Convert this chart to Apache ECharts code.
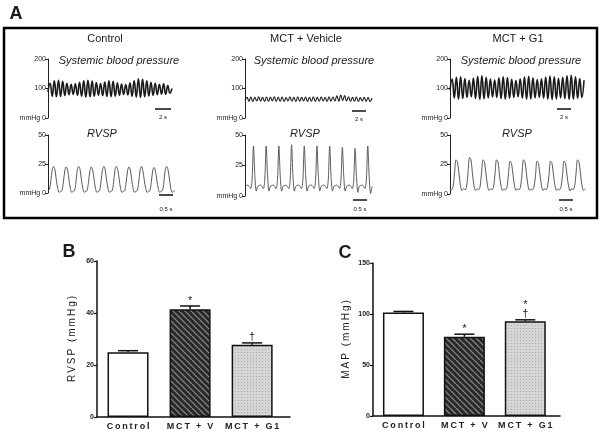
<!DOCTYPE html>
<html><head><meta charset="utf-8">
<script src="https://cdn.jsdelivr.net/npm/echarts@6/dist/echarts.min.js"></script>
<style>html,body{margin:0;padding:0;background:#fff}#c{width:602px;height:434px}</style>
</head><body><div id="c"></div>
<script>
// ---------- DATA ----------
const groups = ['Control', 'MCT + Vehicle', 'MCT + G1'];
const barCats = ['Control', 'MCT + V', 'MCT + G1'];
const rvspMean = [24.9, 41.4, 27.8];
const rvspErr = [0.6, 1.3, 0.7];
const rvspSig = ['', '*', '\u2020'];
const mapMean = [101.5, 77.7, 93.0];
const mapErr = [1.0, 2.5, 1.3];
const mapSig = ['', '*', '*\n\u2020'];
const rvspTicksB = [0, 20, 40, 60];
const mapTicksC = [0, 50, 100, 150];
const sbpTicks = [0, 100, 200];
const rvTicks = [0, 25, 50];

// systemic blood pressure traces (mmHg), successive troughs / peaks
const ctrlSBP = [88,118,74,126,72,128,73,124,76,118,79,114,80,116,77,121,74,126,71,128,72,125,74,120,77,117,76,122,73,126,72,124,74,119,77,115,80,113,78,119,74,126,71,133,70,131,72,126,75,121,77,118,79,114,81,116,80,110,84,100];
const vehSBP = [62,70,57,71,56,70,58,72,57,70,56,71,57,70,58,72,56,70,57,71,56,69,58,71,57,70,56,72,57,70,58,71,56,70,57,72,56,70,57,71,58,70,56,72,57,71,58,75,57,78,59,76,58,72,56,70,57,71,56,69,58,70,57,69,56,68];
const g1SBP = [95,132,68,138,64,140,66,134,70,128,72,135,66,141,63,143,65,138,68,132,71,129,70,136,66,140,64,137,67,131,70,127,72,133,67,139,64,141,65,136,68,130,70,133,67,139,64,142,63,140,65,135,68,138,66,143,63,145,64,140,67,134,70,128];

// right ventricular systolic pressure traces (mmHg)
const ctrlRV = [2,
 3,10,20,23,20,11,4,0.5,1.5,
 2,9,19,22.5,20,12,4,0.5,1.5,
 2,9,20,23,20,11,4,0.5,1.5,
 2,9,19,22.5,20,12,4,0.5,1.5,
 2,10,20,23,20,11,4,0.5,1.5,
 2,9,20,23,20,12,4,0.5,1.5,
 2,9,19,22.5,20,11,4,0.5,1.5,
 2,9,20,23,19,11,4,0.5,1.5,
 2,9,19,22,19,11,4,0.5,1.5,
 2,9,20,23,20,12,4,0.5,1.5,2];
const vehRV = [8,
 8.5,9,8,6,13,41,16,4,8,
 8.5,9,8,6,13,41,17,4,8,
 8.5,9,8,6,13,41,16,4,8,
 8.5,9,8,6,13,42,16,4,8,
 8.5,9,8,6,13,41,17,4,8,
 8.5,9,8,6,13,41,16,4,8,
 8.5,9,8,6,13,41,16,4,8,
 8.5,9,8,6,13,40,16,4,8,
 8.5,9,8,6,12,39,16,3,8,
 8.5,9,8,6,13,41,16,2,8];
const g1RV = [4,
 3.5,6,17,29,27,17,7,3,4.5,
 3.5,6,18,31,29,17,7,3,4.5,
 3.5,6,17,29,27,17,7,3,4.5,
 3.5,6,17,29,27,16,7,3,4.5,
 3.5,6,17,28,26,16,7,3,4.5,
 3.5,6,17,29,27,17,7,3,4.5,
 3.5,6,16,28,26,16,7,3,4.5,
 3.5,6,16,28,26,16,7,3,4.5,
 3.5,6,16,28,26,16,7,2.5,4.5,
 3.5,6,17,29,27,17,7,3,4.5];

// ---------- STYLE ----------
const FF = '"Liberation Sans", Arial, sans-serif';
function spaced(s, sp){ return s.split('').join(sp || '\u200A'); }

function hatchPattern(){
  const c = document.createElement('canvas'); c.width = 6; c.height = 6;
  const g = c.getContext('2d');
  g.fillStyle = '#2a2a2a'; g.fillRect(0,0,6,6);
  g.strokeStyle = '#8e8e8e'; g.lineWidth = 1.2;
  [-6,0,6].forEach(o => { g.beginPath(); g.moveTo(o,0); g.lineTo(o+6,6); g.stroke(); });
  return c;
}
function dotPattern(){
  const c = document.createElement('canvas'); c.width = 3; c.height = 3;
  const g = c.getContext('2d');
  g.fillStyle = '#d6d6d6'; g.fillRect(0,0,3,3);
  g.fillStyle = '#a8a8a8'; g.fillRect(1,1,1,1);
  return c;
}
const fills = ['#ffffff', {image: hatchPattern(), repeat: 'repeat'}, {image: dotPattern(), repeat: 'repeat'}];

const traceGrids = [
  {left:48, top:59, width:124, height:59},
  {left:245, top:59, width:127, height:59},
  {left:450, top:59, width:134, height:59},
  {left:48, top:135, width:127, height:58},
  {left:245, top:135, width:127, height:61},
  {left:450, top:135, width:135, height:59}
];
const traces = [ctrlSBP, vehSBP, g1SBP, ctrlRV, vehRV, g1RV];
const traceWidth = [1.6, 1.1, 1.6, 1, 1, 1];

const grid = traceGrids.concat([
  {left:97, top:261, width:193, height:156},
  {left:373, top:263, width:187, height:153}
]);

const xAxis = [], yAxis = [], series = [];
traces.forEach((d, i) => {
  const isSBP = i < 3;
  const ticks = isSBP ? sbpTicks : rvTicks;
  xAxis.push({gridIndex:i, type:'value', min:0, max:d.length-1, show:false});
  yAxis.push({gridIndex:i, type:'value', min:ticks[0], max:ticks[ticks.length-1], interval:ticks[1]-ticks[0],
    axisLine:{show:true, lineStyle:{color:'#222', width:1}},
    axisTick:{show:true, length:3, lineStyle:{color:'#222'}},
    splitLine:{show:false},
    axisLabel:{fontSize:7, color:'#222', fontFamily:FF, margin:2,
      formatter: v => v === 0 ? 'mmHg 0' : String(v)}
  });
  series.push({type:'line', xAxisIndex:i, yAxisIndex:i, data:d.map((v,k)=>[k,v]),
    showSymbol:false, smooth: isSBP ? 0.5 : 0.3, silent:true,
    lineStyle:{color: isSBP ? '#1a1a1a' : '#5a5a5a', width: traceWidth[i]}});
});

function barPanel(gi, means, errs, sigs, ticks, xmax, name, nameGap){
  xAxis.push({gridIndex:gi, type:'value', min:0, max:xmax,
    axisLine:{show:true, onZero:false, lineStyle:{color:'#111', width:1.5}},
    axisTick:{show:false}, splitLine:{show:false},
    axisLabel:{show:true, customValues:[0.5,1.5,2.5], fontSize:9, fontWeight:'bold', color:'#222', fontFamily:FF, margin:5,
      formatter: v => spaced(barCats[Math.round(v-0.5)], '\u2009')}
  });
  yAxis.push({gridIndex:gi, type:'value', min:ticks[0], max:ticks[ticks.length-1], interval:ticks[1]-ticks[0],
    name: name, nameLocation:'middle', nameGap:nameGap,
    nameTextStyle:{fontSize:10, color:'#222', fontFamily:FF},
    axisLine:{show:true, lineStyle:{color:'#111', width:1.5}},
    axisTick:{show:true, length:3, lineStyle:{color:'#111', width:1.2}},
    splitLine:{show:false},
    axisLabel:{fontSize:7, fontWeight:'bold', color:'#222', fontFamily:FF, margin:3}
  });
  series.push({type:'bar', xAxisIndex:gi, yAxisIndex:gi, barWidth:41, silent:true,
    data: means.map((v,i)=>({value:[i+0.5, v], itemStyle:{color:fills[i], borderColor:'#111', borderWidth:1.5}}))});
  series.push({type:'custom', xAxisIndex:gi, yAxisIndex:gi, silent:true, z:5,
    data: means.map((v,i)=>[i+0.5, v, errs[i], i]),
    renderItem: (params, api) => {
      const x = api.value(0), m = api.value(1), e = api.value(2), idx = api.value(3);
      const p0 = api.coord([x, m]), p1 = api.coord([x, m+e]);
      return {type:'group', children:[
        {type:'line', shape:{x1:p0[0], y1:p0[1], x2:p1[0], y2:p1[1]}, style:{stroke:'#111', lineWidth:1.5}},
        {type:'line', shape:{x1:p1[0]-10, y1:p1[1], x2:p1[0]+10, y2:p1[1]}, style:{stroke:'#111', lineWidth:1.5}},
        {type:'text', style:{text:sigs[idx], x:p1[0], y:p1[1]-1, align:'center', verticalAlign:'bottom',
          font:'11px ' + FF, fill:'#222', lineHeight:9}}
      ]};
    }});
}
barPanel(6, rvspMean, rvspErr, rvspSig, rvspTicksB, 3.11, spaced('RVSP (mmHg)', '\u2009'), 20);
barPanel(7, mapMean, mapErr, mapSig, mapTicksC, 3.07, spaced('MAP (mmHg)', '\u2009'), 22);

// ---------- ANNOTATIONS ----------
const T = (text, x, y, font, extra) => Object.assign({type:'text', x:x, y:y,
  style:Object.assign({text:text, font:font, fill:'#1a1a1a', align:'center', verticalAlign:'middle'}, extra||{})});
const L = (x1,y1,x2,y2,w) => ({type:'line', shape:{x1,y1,x2,y2}, style:{stroke:'#111', lineWidth:w||1.5}});
const titleX = [105, 306, 518];
const sbpLabX = [119, 314, 521];
const rvLabX = [102, 305, 517];
const sbpBar = [[155,171,109],[352,366,111],[557,571,109]];
const rvBar = [[159,173,195],[353,367,200],[559,573,200]];
const graphic = [
  {type:'rect', shape:{x:4, y:28, width:593, height:190}, style:{fill:'none', stroke:'#000', lineWidth:2.5}},
  T('A', 16, 14, 'bold 18px ' + FF),
  T('B', 69, 252, 'bold 18px ' + FF),
  T('C', 345, 253, 'bold 18px ' + FF)
];
groups.forEach((g, i) => {
  graphic.push(T(g, titleX[i], 39, '11px ' + FF));
  graphic.push(T('Systemic blood pressure', sbpLabX[i], 61, 'italic 11px ' + FF));
  graphic.push(T('RVSP', rvLabX[i], 134, 'italic 11px ' + FF));
  const b = sbpBar[i], r = rvBar[i];
  graphic.push(L(b[0], b[2], b[1], b[2]));
  graphic.push(T('2 s', (b[0]+b[1])/2, b[2]+8, '6px ' + FF));
  graphic.push(L(r[0], r[2], r[1], r[2]));
  graphic.push(T('0.5 s', (r[0]+r[1])/2, 209, '6px ' + FF));
});

const chart = echarts.init(document.getElementById('c'), null, {renderer:'canvas'});
chart.setOption({animation:false, backgroundColor:'#fff', grid, xAxis, yAxis, series, graphic});
</script></body></html>
